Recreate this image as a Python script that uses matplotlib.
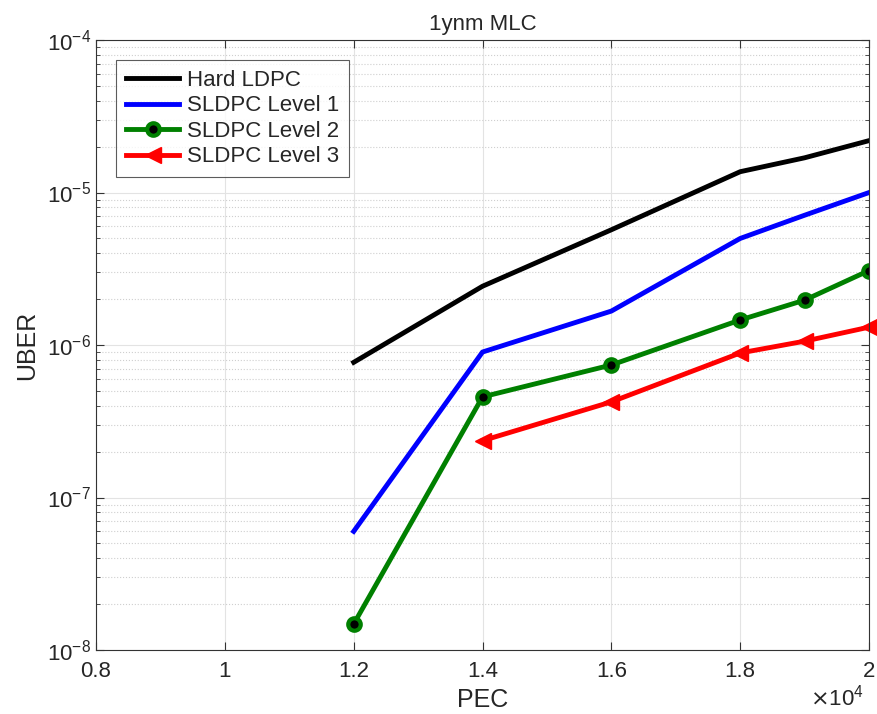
import matplotlib.pyplot as plt
import matplotlib.ticker as ticker
import numpy as np

plt.rcParams['font.family'] = ['Liberation Sans', 'DejaVu Sans']

# PEC values
pec_hard = [12000, 14000, 16000, 18000, 19000, 20000]
uber_hard = [7.7e-7, 2.43e-6, 5.7e-6, 1.37e-5, 1.69e-5, 2.19e-5]

pec_l1 = [12000, 14000, 16000, 18000, 19000, 20000]
uber_l1 = [6.0e-8, 9.0e-7, 1.67e-6, 5.0e-6, 7.1e-6, 1.0e-5]

pec_l2 = [12000, 14000, 16000, 18000, 19000, 20000]
uber_l2 = [1.48e-8, 4.57e-7, 7.4e-7, 1.46e-6, 1.97e-6, 3.08e-6]

pec_l3 = [14000, 16000, 18000, 19000, 20000]
uber_l3 = [2.36e-7, 4.24e-7, 8.87e-7, 1.06e-6, 1.31e-6]

txt = '#262626'

fig = plt.figure(figsize=(8.77, 7.14), dpi=100)
ax = fig.add_axes([0.1095, 0.0896, 0.8814, 0.8543])

ax.plot(pec_hard, uber_hard, color='k', lw=3.5, label='Hard LDPC')
ax.plot(pec_l1, uber_l1, color='#0000ff', lw=3.5, label='SLDPC Level 1')
ax.plot(pec_l2, uber_l2, color='#008000', lw=3.5, marker='o', ms=9,
        mfc='k', mec='#008000', mew=3, label='SLDPC Level 2')
ax.plot(pec_l3, uber_l3, color='#ff0000', lw=3.5, marker='<', ms=11,
        mfc='#ff0000', mec='#ff0000', label='SLDPC Level 3', clip_on=False)

ax.set_yscale('log')
ax.set_xlim(8000, 20000)
ax.set_ylim(1e-8, 1e-4)
ax.set_xticks(np.arange(8000, 20001, 2000))
ax.xaxis.set_major_formatter(ticker.FuncFormatter(lambda v, p: '%g' % (v / 1e4)))
fig.text(0.985, 0.005, r'$\times\mathdefault{10^4}$', ha='right', va='bottom',
         fontsize=16, color=txt)

ax.grid(True, which='major', color='#e3e3e3', lw=0.8)
ax.grid(True, which='minor', axis='y', color='#cfcfcf', ls=':', lw=0.8)
ax.tick_params(which='both', direction='in', top=True, right=True,
               labelsize=16, labelcolor=txt, color='#333333')
ax.tick_params(axis='x', pad=8)
ax.tick_params(which='major', length=6)
ax.tick_params(which='minor', length=3)
for s in ax.spines.values():
    s.set_color('#333333')
    s.set_linewidth(0.8)

ax.set_xlabel('PEC', fontsize=18, labelpad=4, color=txt)
ax.set_ylabel('UBER', fontsize=18, labelpad=6, color=txt)
ax.set_title('1ynm MLC', fontsize=16, pad=7, color=txt)

leg = ax.legend(loc='upper left', fontsize=16, fancybox=False, edgecolor='#333333',
                handlelength=2.4, borderaxespad=0.9, labelspacing=0.2,
                handletextpad=0.35, numpoints=1, borderpad=0.45)
leg.get_frame().set_linewidth(0.8)
for t in leg.get_texts():
    t.set_color(txt)

fig.savefig('out.png', dpi=100)
